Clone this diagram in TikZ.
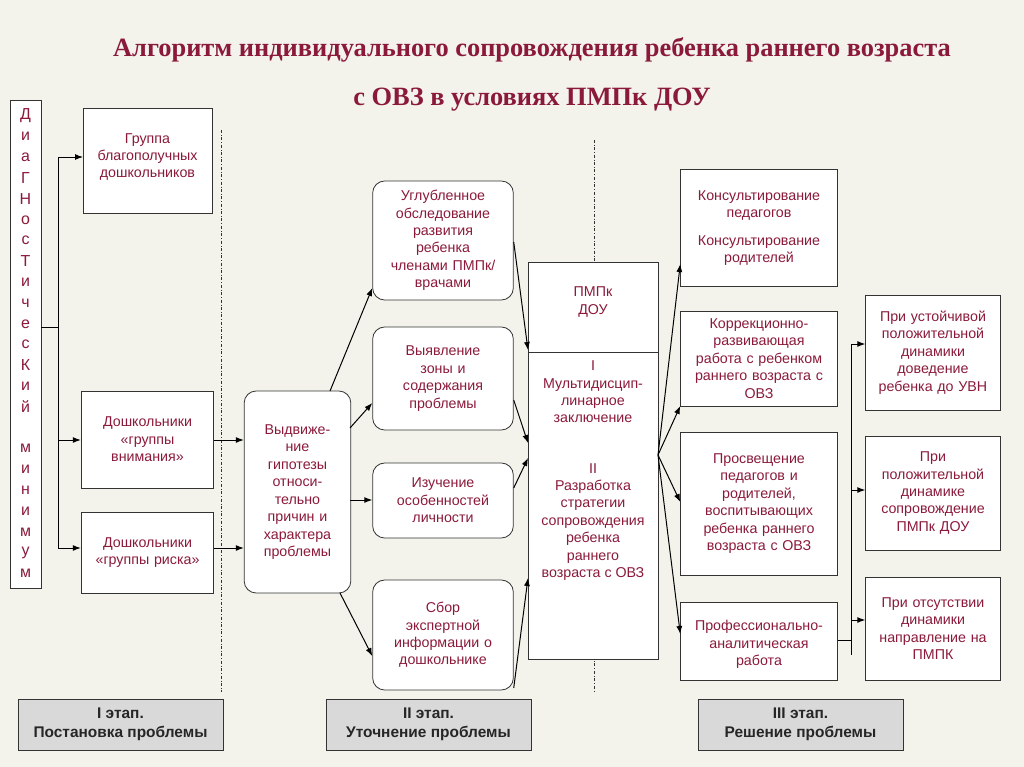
\documentclass[tikz,border=0pt]{standalone}
\usepackage{fontspec}
\setmainfont{Liberation Sans}
\newfontfamily\titlefont{Liberation Serif}
\usetikzlibrary{arrows.meta}
\definecolor{txt}{HTML}{8B1A3A}
\definecolor{bg}{HTML}{F3F3EC}
\begin{document}
\begin{tikzpicture}[x=1bp,y=-1bp,
  every node/.style={font=\fontsize{14.3}{17.5}\selectfont,text=txt,align=center},
  sq/.style={draw=black!80,fill=white,line width=0.8pt,rectangle},
  rd/.style={draw=black!80,fill=white,line width=0.8pt,rounded corners=12bp},
  st/.style={draw=black!80,fill=black!15,line width=0.8pt,font=\fontsize{15.5}{19}\selectfont\bfseries,text=black!85},
  ar/.style={-{Latex[length=8bp,width=6bp]},line width=1pt},
  ln/.style={line width=1pt},
  dd/.style={dash dot,line width=0.6pt,black!80}]
\fill[bg] (0,0) rectangle (1024,767);
\useasboundingbox (0,0) rectangle (1024,767);
\node[font=\titlefont\fontsize{26.5}{30}\selectfont\bfseries] (t1) at (532,50) {Алгоритм индивидуального сопровождения ребенка раннего возраста};
\node[font=\titlefont\fontsize{26.5}{30}\selectfont\bfseries] (t2) at (532,100) {с ОВЗ в условиях ПМПк ДОУ};
\draw[dd] (221,130) -- (221,692);
\draw[dd] (594,140) -- (594,692);
% diag column
\node[sq,minimum width=31bp,minimum height=488bp,inner sep=0pt] (diag) at (25.5,344) {};
\foreach \c [count=\i] in {Д,и,а,Г,Н,о,с,Т,и,ч,е,с,К,и,й,,м,и,н,и,м,у,м}
  \node[font=\fontsize{16}{18}\selectfont,inner sep=0pt] at (25.5,95+\i*20.8) {\c};
\node[sq,minimum width=129bp,minimum height=105bp,anchor=north west] (b1) at (83,108) {};
\node at (147.5,157) {Группа\\благополучных\\дошкольников};
\node[sq,minimum width=129bp,minimum height=97bp,text width=126bp] (b2) at (147.5,439.5) {Дошкольники\\«группы\\внимания»};
\node[sq,minimum width=129bp,minimum height=81bp,text width=126bp] (b3) at (147.5,552.5) {Дошкольники\\«группы риска»};
\coordinate (j0) at (58,327);
\draw[ln] (diag.east |- j0) -- (j0);
\draw[ln] (58,157) -- (58,548);
\draw[ar] (58,157) -- (b1.west |- 0,157);
\draw[ar] (58,440) -- (b2.west |- 0,440);
\draw[ar] (58,548) -- (b3.west |- 0,548);
% hypothesis
\node[rd,minimum width=105bp,minimum height=202bp,text width=100bp] (hyp) at (297.5,492) {Выдвиже-\\ние\\гипотезы\\относи-\\тельно\\причин и\\характера\\проблемы};
\draw[ar] (b2.east |- 0,440) -- (hyp.west |- 0,440);
\draw[ar] (b3.east |- 0,548) -- (hyp.west |- 0,548);
% middle
\node[rd,minimum width=138bp,minimum height=119bp,text width=134bp] (ma) at (443,240.5) {Углубленное\\обследование\\развития\\ребенка\\членами ПМПк/\\врачами};
\node[rd,minimum width=138bp,minimum height=103bp,text width=134bp] (mb) at (443,378.5) {Выявление\\зоны и\\содержания\\проблемы};
\node[rd,minimum width=138bp,minimum height=75bp,text width=134bp] (mc) at (443,500.5) {Изучение\\особенностей\\личности};
\node[rd,minimum width=138bp,minimum height=110bp,text width=134bp] (md) at (443,635) {Сбор\\экспертной\\информации о\\дошкольнике};
\draw[ar] (330,391) -- (ma.west |- 0,288);
\draw[ar] (350,428) -- (mb.west |- 0,403);
\draw[ar] (350,500) -- (mc.west |- 0,500);
\draw[ar] (340,593) -- (md.west |- 0,656);
% PMPk
\node[sq,minimum width=130bp,minimum height=397bp,anchor=north west] (pm) at (528,262) {};
\draw[ln,black!80] (528,352) -- (658,352);
\node at (593,302) {ПМПк\\ДОУ};
\node at (593,392) {I\\Мультидисцип-\\линарное\\заключение};
\node at (593,522) {II\\Разработка\\стратегии\\сопровождения\\ребенка\\раннего\\возраста с ОВЗ};
\draw[ar] (ma.east |- 0,242) -- (pm.west |- 0,350);
\draw[ar] (mb.east |- 0,400) -- (pm.west |- 0,443);
\draw[ar] (mc.east |- 0,488) -- (pm.west |- 0,458);
\draw[ar] (md.east |- 0,688) -- (pm.west |- 0,578);
% right
\node[sq,minimum width=154bp,minimum height=117bp,text width=150bp] (ra) at (759,228) {Консультирование\\педагогов\\[10bp]Консультирование\\родителей};
\node[sq,minimum width=154bp,minimum height=95bp,text width=150bp] (rb) at (759,358.5) {Коррекционно-\\развивающая\\работа с ребенком\\раннего возраста с\\ОВЗ};
\node[sq,minimum width=154bp,minimum height=143bp,text width=150bp] (rc) at (759,503.5) {Просвещение\\педагогов и\\родителей,\\воспитывающих\\ребенка раннего\\возраста с ОВЗ};
\node[sq,minimum width=154bp,minimum height=78bp,text width=150bp] (rd) at (759,641) {\\Профессионально-\\аналитическая\\работа};
\coordinate (pj) at (658,455);
\draw[ar] (pj) -- (ra.west |- 0,264);
\draw[ar] (pj) -- (rb.west |- 0,406);
\draw[ar] (pj) -- (rc.west |- 0,502);
\draw[ar] (pj) -- (rd.west |- 0,634);
% far right
\node[sq,minimum width=130bp,minimum height=115bp,text width=128bp] (fa) at (933,352.5) {При устойчивой\\положительной\\динамики\\доведение\\ребенка до УВН};
\node[sq,minimum width=130bp,minimum height=114bp,text width=128bp] (fb) at (933,493) {При\\положительной\\динамике\\сопровождение\\ПМПк ДОУ};
\node[sq,minimum width=130bp,minimum height=103bp,text width=128bp] (fc) at (933,628.5) {При отсутствии\\динамики\\направление на\\ПМПК};
\draw[ln] (rd.east |- 0,640) -- (851,640);
\draw[ln] (851,344) -- (851,655);
\draw[ar] (851,344) -- (fa.west |- 0,344);
\draw[ar] (851,490) -- (fb.west |- 0,490);
\draw[ar] (851,620) -- (fc.west |- 0,620);
% stages
\node[st,minimum width=205bp,minimum height=51bp] (s1) at (120.5,724.5) {I этап.\\Постановка проблемы};
\node[st,minimum width=205bp,minimum height=51bp] (s2) at (428.5,724.5) {II этап.\\Уточнение проблемы};
\node[st,minimum width=205bp,minimum height=51bp] (s3) at (800.5,724.5) {III этап.\\Решение проблемы};
\end{tikzpicture}
\end{document}
